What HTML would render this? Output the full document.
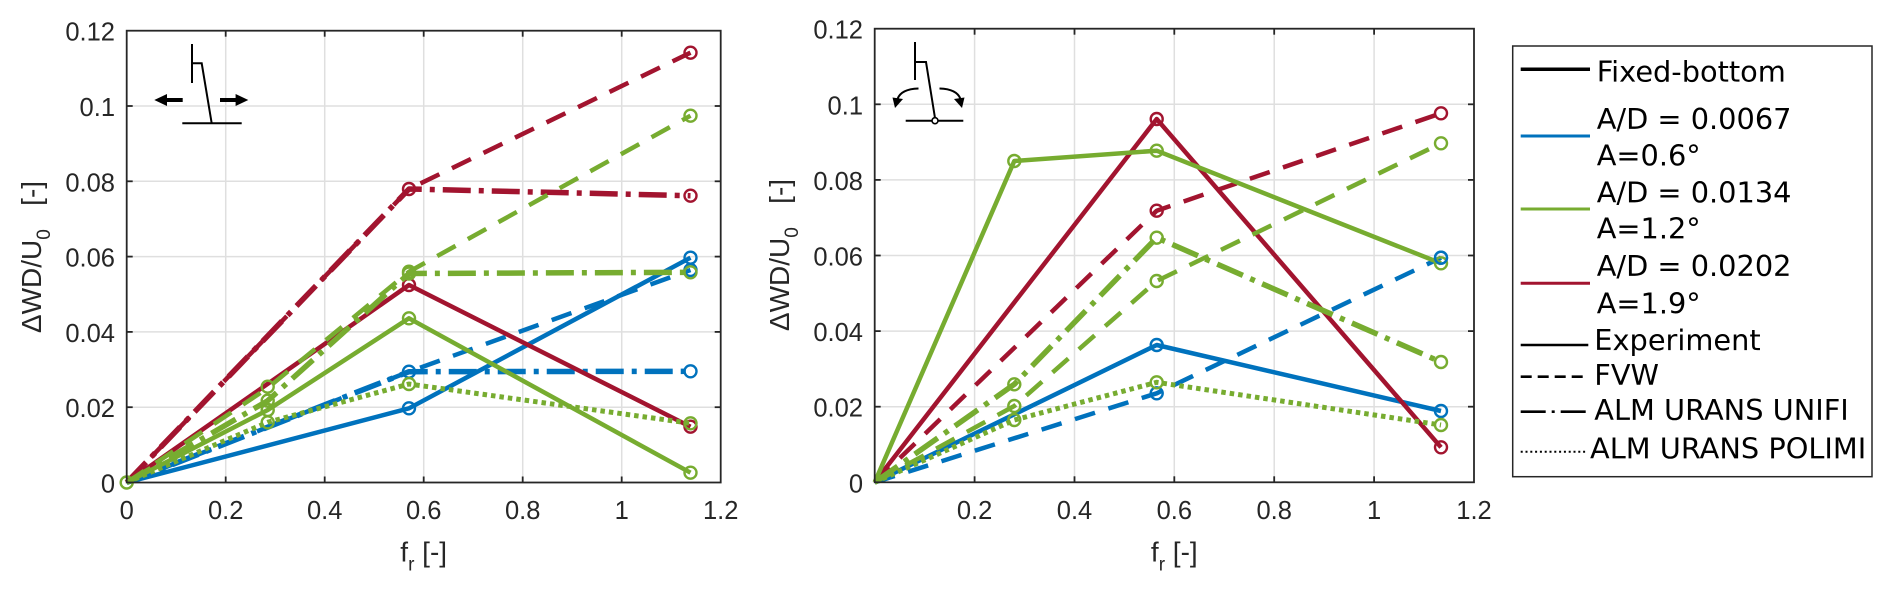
<!DOCTYPE html>
<html>
<head>
<meta charset="utf-8">
<style>
html,body{margin:0;padding:0;background:#fff;}
svg{display:block;}
.tk{font-family:"Liberation Sans",Arial,sans-serif;font-size:25.5px;fill:#262626;}
.lb{font-family:"Liberation Sans",Arial,sans-serif;font-size:28px;fill:#262626;}
.lg{font-family:"DejaVu Sans","Liberation Sans",sans-serif;font-size:28.8px;fill:#000;}
.grid{stroke:#dfdfdf;stroke-width:1.5;}
.ax{stroke:#262626;stroke-width:1.8;fill:none;}
.s{fill:none;stroke-width:4.5;stroke-linejoin:round;}
.d{fill:none;stroke-width:4.5;stroke-dasharray:21 14;stroke-linejoin:round;}
.dd{fill:none;stroke-width:5.5;stroke-dasharray:28 8 5 8;stroke-linejoin:round;}
.dt{fill:none;stroke-width:5;stroke-dasharray:4.5 4;}
.m{fill:none;stroke-width:2.4;}
</style>
</head>
<body>
<svg width="1892" height="591" viewBox="0 0 1892 591" xmlns="http://www.w3.org/2000/svg">
<rect width="1892" height="591" fill="#fff"/>

<!-- ================= LEFT PLOT ================= -->
<g>
  <g class="grid">
    <line x1="225.7" y1="30.7" x2="225.7" y2="482.5"/>
    <line x1="324.7" y1="30.7" x2="324.7" y2="482.5"/>
    <line x1="423.7" y1="30.7" x2="423.7" y2="482.5"/>
    <line x1="522.7" y1="30.7" x2="522.7" y2="482.5"/>
    <line x1="621.7" y1="30.7" x2="621.7" y2="482.5"/>
    <line x1="126.7" y1="407.2" x2="720.7" y2="407.2"/>
    <line x1="126.7" y1="331.9" x2="720.7" y2="331.9"/>
    <line x1="126.7" y1="256.6" x2="720.7" y2="256.6"/>
    <line x1="126.7" y1="181.3" x2="720.7" y2="181.3"/>
    <line x1="126.7" y1="106" x2="720.7" y2="106"/>
  </g>
  <g stroke="#000" stroke-width="2" fill="none">
    <line x1="192" y1="44" x2="192" y2="83"/>
    <polyline points="192,63.3 201.7,63.3 211.7,123.3"/>
    <line x1="182.3" y1="123.3" x2="241.7" y2="123.3"/>
    <line x1="165" y1="100" x2="182.7" y2="100" stroke-width="4"/>
    <line x1="220" y1="100" x2="237" y2="100" stroke-width="4"/>
  </g>
  <polygon points="154.3,100 167,94 167,106" fill="#000"/>
  <polygon points="248.3,100 235.6,94 235.6,106" fill="#000"/>

  <g stroke="#0072BD">
    <polyline class="s" points="126.7,482.5 409,408.3 690.5,257.7"/>
    <polyline class="d" points="126.7,482.5 409,371.7 690.5,270"/>
    <polyline class="dd" points="126.7,482.5 409,371.7 690.5,371.3"/>
    <g class="m">
      <circle cx="409" cy="408.3" r="6"/><circle cx="690.5" cy="257.7" r="6"/>
      <circle cx="409" cy="371.7" r="6"/><circle cx="690.5" cy="270" r="6"/>
      <circle cx="690.5" cy="371.3" r="6"/>
    </g>
  </g>
  <g stroke="#A2142F">
    <polyline class="s" points="126.7,482.5 409,285 690.5,426.7"/>
    <polyline class="d" points="126.7,482.5 409,189 690.5,52.7"/>
    <polyline class="dd" points="126.7,482.5 409,189 690.5,195.7"/>
    <g class="m">
      <circle cx="409" cy="285" r="6"/><circle cx="690.5" cy="426.7" r="6"/>
      <circle cx="409" cy="189" r="6"/><circle cx="690.5" cy="52.7" r="6"/>
      <circle cx="690.5" cy="195.7" r="6"/>
    </g>
  </g>
  <g stroke="#77AC30">
    <polyline class="s" points="126.7,482.5 267.7,410 409,318.3 690.5,472.7"/>
    <polyline class="d" points="126.7,482.5 267.7,388 409,271.7 690.5,115.7"/>
    <polyline class="dd" points="126.7,482.5 267.7,400.7 409,273.5 690.5,272.3"/>
    <polyline class="dt" points="126.7,482.5 267.7,422.3 409,384 690.5,423.3"/>
    <g class="m">
      <circle cx="267.7" cy="410" r="6"/><circle cx="409" cy="318.3" r="6"/><circle cx="690.5" cy="472.7" r="6"/>
      <circle cx="267.7" cy="386.7" r="6"/><circle cx="409" cy="271.7" r="6"/><circle cx="690.5" cy="115.7" r="6"/>
      <circle cx="267.7" cy="400.7" r="6"/><circle cx="409" cy="273.5" r="6"/><circle cx="690.5" cy="272.3" r="6"/>
      <circle cx="267.7" cy="422.3" r="6"/><circle cx="409" cy="384" r="6"/><circle cx="690.5" cy="423.3" r="6"/>
      <circle cx="126.7" cy="482.5" r="6"/>
    </g>
  </g>

  <rect class="ax" x="126.7" y="30.7" width="594" height="451.8"/>
  <g stroke="#262626" stroke-width="1.8">
    <line x1="225.7" y1="482.5" x2="225.7" y2="476.5"/><line x1="324.7" y1="482.5" x2="324.7" y2="476.5"/>
    <line x1="423.7" y1="482.5" x2="423.7" y2="476.5"/><line x1="522.7" y1="482.5" x2="522.7" y2="476.5"/>
    <line x1="621.7" y1="482.5" x2="621.7" y2="476.5"/>
    <line x1="225.7" y1="30.7" x2="225.7" y2="36.7"/><line x1="324.7" y1="30.7" x2="324.7" y2="36.7"/>
    <line x1="423.7" y1="30.7" x2="423.7" y2="36.7"/><line x1="522.7" y1="30.7" x2="522.7" y2="36.7"/>
    <line x1="621.7" y1="30.7" x2="621.7" y2="36.7"/>
    <line x1="126.7" y1="407.2" x2="132.7" y2="407.2"/><line x1="126.7" y1="331.9" x2="132.7" y2="331.9"/>
    <line x1="126.7" y1="256.6" x2="132.7" y2="256.6"/><line x1="126.7" y1="181.3" x2="132.7" y2="181.3"/>
    <line x1="126.7" y1="106" x2="132.7" y2="106"/>
    <line x1="720.7" y1="407.2" x2="714.7" y2="407.2"/><line x1="720.7" y1="331.9" x2="714.7" y2="331.9"/>
    <line x1="720.7" y1="256.6" x2="714.7" y2="256.6"/><line x1="720.7" y1="181.3" x2="714.7" y2="181.3"/>
    <line x1="720.7" y1="106" x2="714.7" y2="106"/>
  </g>
  <g class="tk" text-anchor="end">
    <text x="115" y="492.5">0</text>
    <text x="115" y="417.2">0.02</text>
    <text x="115" y="341.9">0.04</text>
    <text x="115" y="266.6">0.06</text>
    <text x="115" y="191.3">0.08</text>
    <text x="115" y="116">0.1</text>
    <text x="115" y="40.7">0.12</text>
  </g>
  <g class="tk" text-anchor="middle">
    <text x="126.7" y="519">0</text>
    <text x="225.7" y="519">0.2</text>
    <text x="324.7" y="519">0.4</text>
    <text x="423.7" y="519">0.6</text>
    <text x="522.7" y="519">0.8</text>
    <text x="621.7" y="519">1</text>
    <text x="720.7" y="519">1.2</text>
  </g>
  <text class="lb" x="423.7" y="561.7" text-anchor="middle">f<tspan font-size="19" dy="9">r</tspan><tspan dy="-9">&#160;[-]</tspan></text>
  <text class="lb" transform="translate(41,257) rotate(-90)" text-anchor="middle">ΔWD/U<tspan font-size="19" dy="9">0</tspan><tspan dy="-9">&#160;&#160;&#160;[-]</tspan></text>
</g>

<!-- ================= RIGHT PLOT ================= -->
<g>
  <g class="grid">
    <line x1="974.6" y1="28.7" x2="974.6" y2="482.3"/>
    <line x1="1074.5" y1="28.7" x2="1074.5" y2="482.3"/>
    <line x1="1174.3" y1="28.7" x2="1174.3" y2="482.3"/>
    <line x1="1274.2" y1="28.7" x2="1274.2" y2="482.3"/>
    <line x1="1374.1" y1="28.7" x2="1374.1" y2="482.3"/>
    <line x1="874.7" y1="406.7" x2="1474" y2="406.7"/>
    <line x1="874.7" y1="331.1" x2="1474" y2="331.1"/>
    <line x1="874.7" y1="255.5" x2="1474" y2="255.5"/>
    <line x1="874.7" y1="179.9" x2="1474" y2="179.9"/>
    <line x1="874.7" y1="104.3" x2="1474" y2="104.3"/>
  </g>
  <g stroke="#000" stroke-width="2" fill="none">
    <line x1="915" y1="42" x2="915" y2="80"/>
    <polyline points="915,62 926,62 935,118"/>
    <line x1="905.7" y1="120.7" x2="932" y2="120.7"/>
    <line x1="938" y1="120.7" x2="963.3" y2="120.7"/>
    <path d="M918.5,88.5 Q901,89 897.5,99"/>
    <path d="M939.5,88.5 Q957,89 960.5,99"/>
  </g>
  <circle cx="935" cy="120.7" r="3" fill="#fff" stroke="#000" stroke-width="1.6"/>
  <polygon points="895,108 892.5,97.5 903,99" fill="#000"/>
  <polygon points="962,108 964.5,97.5 954,99" fill="#000"/>

  <g stroke="#0072BD">
    <polyline class="s" points="874.7,482.3 1156.7,345 1441,411"/>
    <polyline class="d" points="874.7,482.3 1156.7,393.3 1441,257.7"/>
    <g class="m">
      <circle cx="1156.7" cy="345" r="6"/><circle cx="1441" cy="411" r="6"/>
      <circle cx="1156.7" cy="393.3" r="6"/><circle cx="1441" cy="257.7" r="6"/>
    </g>
  </g>
  <g stroke="#A2142F">
    <polyline class="s" points="874.7,482.3 1156.7,119 1441,447.3"/>
    <polyline class="d" points="874.7,482.3 1156.7,210.7 1441,113.3"/>
    <g class="m">
      <circle cx="1156.7" cy="119" r="6"/><circle cx="1441" cy="447.3" r="6"/>
      <circle cx="1156.7" cy="210.7" r="6"/><circle cx="1441" cy="113.3" r="6"/>
    </g>
  </g>
  <g stroke="#77AC30">
    <polyline class="s" points="874.7,482.3 1014.3,161 1156.7,150.7 1441,263.3"/>
    <polyline class="d" points="874.7,482.3 1014.3,406 1156.7,281 1441,143.3"/>
    <polyline class="dd" points="874.7,482.3 1014.3,384.3 1156.7,237.7 1441,362"/>
    <polyline class="dt" points="874.7,482.3 1014.3,420 1156.7,382.3 1441,425"/>
    <g class="m">
      <circle cx="1014.3" cy="161" r="6"/><circle cx="1156.7" cy="150.7" r="6"/><circle cx="1441" cy="263.3" r="6"/>
      <circle cx="1014.3" cy="406" r="6"/><circle cx="1156.7" cy="281" r="6"/><circle cx="1441" cy="143.3" r="6"/>
      <circle cx="1014.3" cy="384.3" r="6"/><circle cx="1156.7" cy="237.7" r="6"/><circle cx="1441" cy="362" r="6"/>
      <circle cx="1014.3" cy="420" r="6"/><circle cx="1156.7" cy="382.3" r="6"/><circle cx="1441" cy="425" r="6"/>
    </g>
  </g>
  <circle cx="1441" cy="257.7" r="6" fill="none" stroke="#0072BD" stroke-width="2.4"/>

  <rect class="ax" x="874.7" y="28.7" width="599.3" height="453.6"/>
  <g stroke="#262626" stroke-width="1.8">
    <line x1="974.6" y1="482.3" x2="974.6" y2="476.3"/><line x1="1074.5" y1="482.3" x2="1074.5" y2="476.3"/>
    <line x1="1174.3" y1="482.3" x2="1174.3" y2="476.3"/><line x1="1274.2" y1="482.3" x2="1274.2" y2="476.3"/>
    <line x1="1374.1" y1="482.3" x2="1374.1" y2="476.3"/>
    <line x1="974.6" y1="28.7" x2="974.6" y2="34.7"/><line x1="1074.5" y1="28.7" x2="1074.5" y2="34.7"/>
    <line x1="1174.3" y1="28.7" x2="1174.3" y2="34.7"/><line x1="1274.2" y1="28.7" x2="1274.2" y2="34.7"/>
    <line x1="1374.1" y1="28.7" x2="1374.1" y2="34.7"/>
    <line x1="874.7" y1="406.7" x2="880.7" y2="406.7"/><line x1="874.7" y1="331.1" x2="880.7" y2="331.1"/>
    <line x1="874.7" y1="255.5" x2="880.7" y2="255.5"/><line x1="874.7" y1="179.9" x2="880.7" y2="179.9"/>
    <line x1="874.7" y1="104.3" x2="880.7" y2="104.3"/>
    <line x1="1474" y1="406.7" x2="1468" y2="406.7"/><line x1="1474" y1="331.1" x2="1468" y2="331.1"/>
    <line x1="1474" y1="255.5" x2="1468" y2="255.5"/><line x1="1474" y1="179.9" x2="1468" y2="179.9"/>
    <line x1="1474" y1="104.3" x2="1468" y2="104.3"/>
  </g>
  <g class="tk" text-anchor="end">
    <text x="863" y="492.3">0</text>
    <text x="863" y="416.7">0.02</text>
    <text x="863" y="341.1">0.04</text>
    <text x="863" y="265.5">0.06</text>
    <text x="863" y="189.9">0.08</text>
    <text x="863" y="114.3">0.1</text>
    <text x="863" y="38.7">0.12</text>
  </g>
  <g class="tk" text-anchor="middle">
    <text x="974.6" y="519">0.2</text>
    <text x="1074.5" y="519">0.4</text>
    <text x="1174.3" y="519">0.6</text>
    <text x="1274.2" y="519">0.8</text>
    <text x="1374.1" y="519">1</text>
    <text x="1474" y="519">1.2</text>
  </g>
  <text class="lb" x="1174.3" y="561.7" text-anchor="middle">f<tspan font-size="19" dy="9">r</tspan><tspan dy="-9">&#160;[-]</tspan></text>
  <text class="lb" transform="translate(789,255) rotate(-90)" text-anchor="middle">ΔWD/U<tspan font-size="19" dy="9">0</tspan><tspan dy="-9">&#160;&#160;&#160;[-]</tspan></text>
</g>

<!-- ================= LEGEND ================= -->
<g>
  <rect x="1512.7" y="46" width="359.3" height="430.7" fill="#fff" stroke="#262626" stroke-width="1.5"/>
  <line x1="1520.7" y1="69.3" x2="1590" y2="69.3" stroke="#000" stroke-width="3.5"/>
  <text class="lg" x="1596.7" y="81.7">Fixed-bottom</text>

  <line x1="1520.7" y1="136" x2="1590" y2="136" stroke="#0072BD" stroke-width="3"/>
  <text class="lg" x="1596.7" y="129">A/D = 0.0067</text>
  <text class="lg" x="1596.7" y="165.7">A=0.6°</text>

  <line x1="1520.7" y1="209" x2="1590" y2="209" stroke="#77AC30" stroke-width="3"/>
  <text class="lg" x="1596.7" y="202.7">A/D = 0.0134</text>
  <text class="lg" x="1596.7" y="238.3">A=1.2°</text>

  <line x1="1520.7" y1="283.3" x2="1590" y2="283.3" stroke="#A2142F" stroke-width="3"/>
  <text class="lg" x="1596.7" y="276">A/D = 0.0202</text>
  <text class="lg" x="1596.7" y="313.3">A=1.9°</text>

  <line x1="1520.7" y1="345" x2="1588.3" y2="345" stroke="#000" stroke-width="2.6"/>
  <text class="lg" x="1594.3" y="350">Experiment</text>

  <line x1="1520.7" y1="376.7" x2="1588.3" y2="376.7" stroke="#000" stroke-width="2.6" stroke-dasharray="11 6"/>
  <text class="lg" x="1594.3" y="385">FVW</text>

  <line x1="1520.7" y1="411.7" x2="1588.3" y2="411.7" stroke="#000" stroke-width="2.6" stroke-dasharray="25 6 3 6"/>
  <text class="lg" x="1594.3" y="420">ALM URANS UNIFI</text>

  <line x1="1520.7" y1="451.7" x2="1587" y2="451.7" stroke="#000" stroke-width="2" stroke-dasharray="2 2.8"/>
  <text class="lg" x="1590" y="458.3">ALM URANS POLIMI</text>
</g>
</svg>
</body>
</html>
